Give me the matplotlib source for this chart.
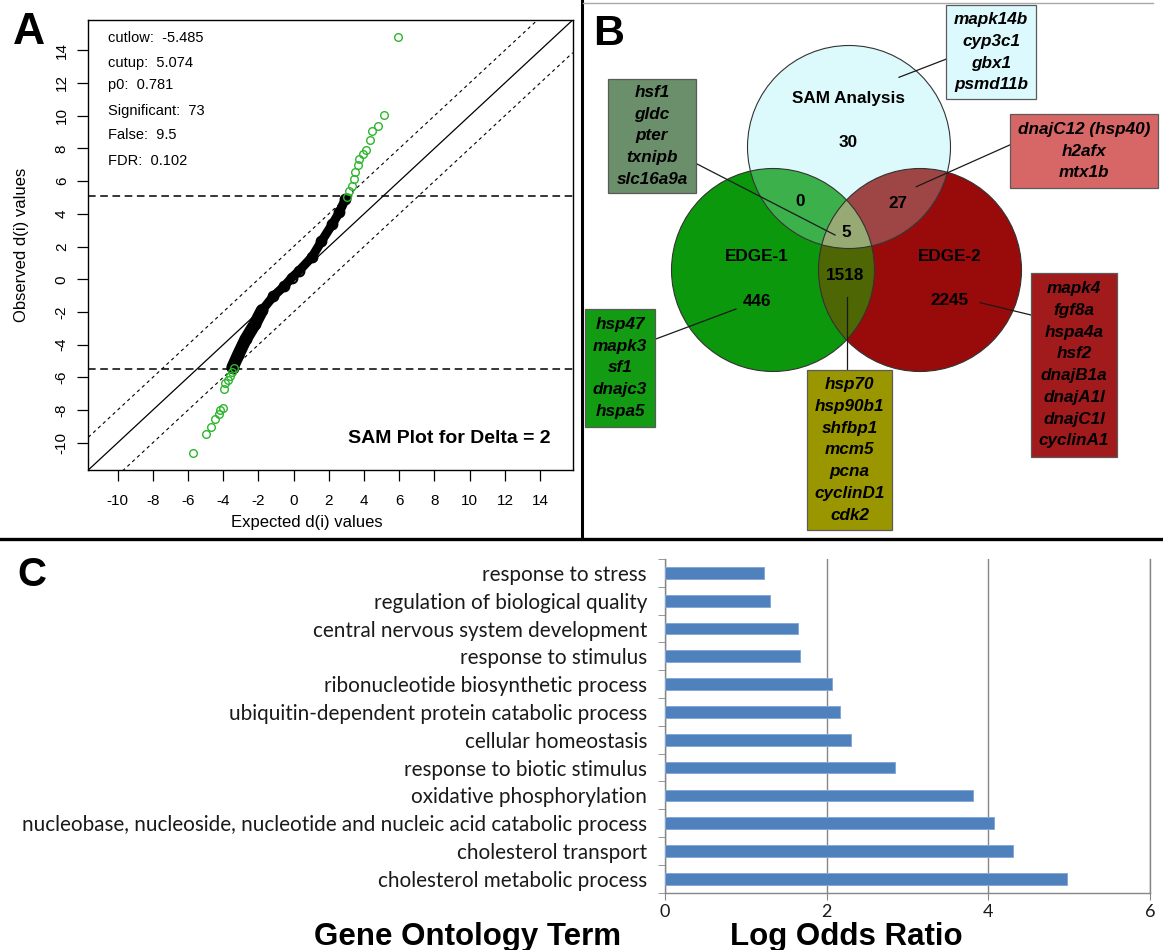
import numpy as np
import matplotlib
matplotlib.use("Agg")
import matplotlib.pyplot as plt
from matplotlib.patches import Circle, Rectangle, PathPatch
from matplotlib.path import Path

# ---------------- DATA ----------------
# Panel A: SAM plot
sam_stat_names = ["cutlow:", "cutup:", "p0:", "Significant:", "False:", "FDR:"]
sam_stat_values = ["-5.485", "5.074", "0.781", "73", "9.5", "0.102"]
cut_low = -5.485
cut_up = 5.074
delta = 2
axis_ticks_A = [-10, -8, -6, -4, -2, 0, 2, 4, 6, 8, 10, 12, 14]
expected_bulk = [-3.47, -3.15, -2.73, -2.20, -1.79, -1.16, -0.53, -0.10, 0.32, 1.05, 1.58, 2.20, 2.60, 2.94]
observed_bulk = [-5.40, -4.63, -3.68, -2.74, -1.89, -1.05, -0.42, 0.10, 0.53, 1.37, 2.32, 3.37, 4.10, 4.90]
expected_up = [3.05, 3.15, 3.30, 3.42, 3.51, 3.63, 3.72, 3.93, 4.10, 4.31, 4.45, 4.77, 5.15, 5.95]
observed_up = [5.05, 5.37, 5.68, 6.11, 6.53, 6.99, 7.37, 7.68, 7.89, 8.53, 9.09, 9.37, 10.04, 14.84]
expected_down = [-3.41, -3.50, -3.63, -3.73, -3.88, -3.93, -4.03, -4.16, -4.26, -4.45, -4.68, -4.96, -5.74]
observed_down = [-5.44, -5.64, -5.91, -6.16, -6.32, -6.73, -7.85, -7.99, -8.23, -8.56, -9.01, -9.48, -10.64]

# Panel B: Venn diagram
set_names = ["SAM Analysis", "EDGE-1", "EDGE-2"]
count_sam_only = 30
count_sam_e1 = 0
count_sam_e2 = 27
count_all = 5
count_e1_only = 446
count_e1_e2 = 1518
count_e2_only = 2245
genes_sam_only = ["mapk14b", "cyp3c1", "gbx1", "psmd11b"]
genes_sam_e2 = ["dnajC12 (hsp40)", "h2afx", "mtx1b"]
genes_all = ["hsf1", "gldc", "pter", "txnipb", "slc16a9a"]
genes_e1_only = ["hsp47", "mapk3", "sf1", "dnajc3", "hspa5"]
genes_e1_e2 = ["hsp70", "hsp90b1", "shfbp1", "mcm5", "pcna", "cyclinD1", "cdk2"]
genes_e2_only = ["mapk4", "fgf8a", "hspa4a", "hsf2", "dnajB1a", "dnajA1l", "dnajC1l", "cyclinA1"]

# Panel C: GO enrichment
go_terms = ["response to stress", "regulation of biological quality",
            "central nervous system development", "response to stimulus",
            "ribonucleotide biosynthetic process",
            "ubiquitin-dependent protein catabolic process",
            "cellular homeostasis", "response to biotic stimulus",
            "oxidative phosphorylation",
            "nucleobase, nucleoside, nucleotide and nucleic acid catabolic process",
            "cholesterol transport", "cholesterol metabolic process"]
log_odds = [1.23, 1.30, 1.64, 1.67, 2.07, 2.17, 2.30, 2.85, 3.81, 4.07, 4.30, 4.97]
ticks_C = [0, 2, 4, 6]

# ---------------- FIGURE ----------------
W, H = 1163, 950
SANS = ['Liberation Sans', 'DejaVu Sans']
plt.rcParams['font.family'] = SANS
plt.rcParams['axes.unicode_minus'] = False
fig = plt.figure(figsize=(W / 100, H / 100), dpi=100)


def fr(x0, y0, x1, y1):
    return [x0 / W, 1 - y1 / H, (x1 - x0) / W, (y1 - y0) / H]


ov = fig.add_axes([0, 0, 1, 1])
ov.set_xlim(0, W)
ov.set_ylim(H, 0)
ov.axis('off')
ov.set_zorder(10)

# ---------------- PANEL A ----------------
axA = fig.add_axes(fr(88.3, 20, 572.7, 470))
lim = (-11.66, 15.85)
axA.set_xlim(lim)
axA.set_ylim(lim)
xs = np.array(lim)
axA.plot(xs, xs, color='black', lw=0.9)
axA.plot(xs, xs + delta, color='black', lw=0.8, ls=(0, (3, 3)))
axA.plot(xs, xs - delta, color='black', lw=0.8, ls=(0, (3, 3)))
axA.axhline(cut_up, color='black', lw=1.1, ls=(0, (5, 3)))
axA.axhline(cut_low, color='black', lw=1.1, ls=(0, (5, 3)))
axA.plot(expected_bulk, observed_bulk, color='black', lw=6.5,
         solid_capstyle='round', solid_joinstyle='round')
axA.plot(expected_bulk[:5], observed_bulk[:5], color='black', lw=9,
         solid_capstyle='round', solid_joinstyle='round')
axA.plot(expected_bulk, observed_bulk, 'o', mfc='none', mec='black', ms=7, mew=1.5)
green = '#2db52d'
axA.plot(expected_up, observed_up, 'o', mfc='none', mec=green, ms=5.5, mew=1.0)
axA.plot(expected_down, observed_down, 'o', mfc='none', mec=green, ms=5.5, mew=1.0)
axA.set_xticks(axis_ticks_A)
axA.set_yticks(axis_ticks_A)
axA.tick_params(direction='out', length=8, width=0.9, labelsize=11)
axA.tick_params(axis='x', pad=9)
axA.tick_params(axis='y', pad=6)
for lbl in axA.get_yticklabels():
    lbl.set_rotation(90)
    lbl.set_va('center')
for s in axA.spines.values():
    s.set_linewidth(1.0)

stat_ys = [38.3, 63.3, 85, 110.7, 135, 160.7]
for name, val, yy in zip(sam_stat_names, sam_stat_values, stat_ys):
    ov.text(108.3, yy, f"{name}  {val}", fontsize=10.5, ha='left', va='center')
ov.text(550.7, 438.3, f"SAM Plot for Delta = {delta}", fontsize=14,
        fontweight='bold', ha='right', va='center')
ov.text(307, 522.7, "Expected d(i) values", fontsize=12, ha='center', va='center')
ov.text(21.7, 245, "Observed d(i) values", fontsize=12, ha='center',
        va='center', rotation=90)
ov.text(29, 32, "A", fontsize=32, fontweight='bold', ha='center', va='center')

# ---------------- PANEL B ----------------
R = 101.5
c_sam = (849, 147)
c_e1 = (773, 270)
c_e2 = (920, 270)
col_sam = '#dcf9fc'
col_e1 = '#0c980c'
col_e2 = '#990a0a'
col_sam_e1 = '#3cb04a'
col_sam_e2 = '#9e4545'
col_e1_e2 = '#4f6604'
col_all = '#98aa74'


def circ(c, **kw):
    return Circle(c, R, transform=ov.transData, **kw)


for c, col in [(c_e1, col_e1), (c_e2, col_e2), (c_sam, col_sam)]:
    ov.add_patch(circ(c, fc=col, ec='none', zorder=1))

p = circ(c_sam, fc=col_sam_e1, ec='none', zorder=2)
ov.add_patch(p)
p.set_clip_path(circ(c_e1))
p = circ(c_sam, fc=col_sam_e2, ec='none', zorder=2)
ov.add_patch(p)
p.set_clip_path(circ(c_e2))

# lens E1 ∩ E2
d = c_e2[0] - c_e1[0]
a = d / 2
hh = np.sqrt(R ** 2 - a ** 2)
phi = np.degrees(np.arctan2(hh, a))
arc1 = Path.arc(-phi, phi)
arc2 = Path.arc(180 - phi, 180 + phi)
v1 = arc1.vertices * R + np.array(c_e1)
v2 = arc2.vertices * R + np.array(c_e2)
verts = np.vstack([v1, v2[1:], v1[:1]])
codes = list(arc1.codes) + list(arc2.codes[1:]) + [Path.CLOSEPOLY]
lens = Path(verts, codes)
ov.add_patch(PathPatch(lens, fc=col_e1_e2, ec='none', zorder=2))
pa = PathPatch(lens, fc=col_all, ec='none', zorder=3)
ov.add_patch(pa)
pa.set_clip_path(circ(c_sam))

for c in [c_sam, c_e1, c_e2]:
    ov.add_patch(circ(c, fc='none', ec='#333333', lw=0.8, zorder=4))

bfs = 12.3
venn_texts = [
    (849, 98.3, set_names[0]), (848.3, 142.7, str(count_sam_only)),
    (800, 201.7, str(count_sam_e1)), (898, 203.3, str(count_sam_e2)),
    (846.7, 232.3, str(count_all)), (756.7, 256.7, set_names[1]),
    (949.7, 256.7, set_names[2]), (845, 275, str(count_e1_e2)),
    (757.3, 301.7, str(count_e1_only)), (949.7, 300.7, str(count_e2_only)),
]
for x, y, t in venn_texts:
    ov.text(x, y, t, fontsize=bfs, fontweight='bold', ha='center', va='center', zorder=6)

# leader lines
leaders = [((899, 77.3), (945.7, 59.3)), ((916.3, 186.7), (1009.7, 145)),
           ((695.7, 163.3), (835, 235)), ((655, 339.3), (736, 309)),
           ((846.7, 297.3), (846.7, 370)), ((980.3, 302.7), (1031, 315))]
for (x0, y0), (x1, y1) in leaders:
    ov.plot([x0, x1], [y0, y1], color='#1a1a1a', lw=0.9, zorder=5)

boxes = [
    (945.7, 5, 1036.3, 99.3, '#dcfafd', genes_sam_only),
    (1009.7, 114.3, 1158, 187.7, '#d76767', genes_sam_e2),
    (608.3, 79, 695.7, 192.7, '#6b8e6b', genes_all),
    (585, 309.3, 655, 426.7, '#149b14', genes_e1_only),
    (806.7, 370, 892.3, 530, '#999600', genes_e1_e2),
    (1030.7, 272.7, 1117.3, 456.7, '#a11b1d', genes_e2_only),
]
step = 21.8
for x0, y0, x1, y1, col, genes in boxes:
    ov.add_patch(Rectangle((x0, y0), x1 - x0, y1 - y0, fc=col, ec='#5a5a5a',
                           lw=0.9, zorder=5))
    cy = (y0 + y1) / 2
    n = len(genes)
    for i, g in enumerate(genes):
        yy = cy + (i - (n - 1) / 2) * step
        ov.text((x0 + x1) / 2, yy, g, fontsize=bfs, fontweight='bold',
                fontstyle='italic', ha='center', va='center', zorder=6)

ov.text(609, 34, "B", fontsize=31, fontweight='bold', ha='center', va='center')

# separators
ov.plot([581.5, 581.5], [0, 539], color='black', lw=2.2, zorder=7)
ov.plot([0, W], [539, 539], color='black', lw=2.4, zorder=7)
ov.plot([583, 1153], [3.3, 3.3], color='#a8a8a8', lw=1.0, zorder=7)

# ---------------- PANEL C ----------------
CFONT = ['Lato', 'DejaVu Sans']
axC = fig.add_axes(fr(665, 559, 1150, 892.7))
ypos = np.arange(len(go_terms))
axC.barh(ypos, log_odds, height=0.42, color='#4f81bd', edgecolor='#86a8d6',
         lw=0.7, zorder=3)
axC.set_ylim(len(go_terms) - 0.5, -0.5)
axC.set_xlim(0, 6)
axC.set_xticks(ticks_C)
axC.set_xticklabels([str(t) for t in ticks_C], fontfamily=CFONT)
axC.xaxis.grid(True, color='#868686', lw=1.0)
axC.axvline(6, color='#868686', lw=1.0, clip_on=False)
axC.set_axisbelow(True)
for k in ['top', 'right']:
    axC.spines[k].set_visible(False)
for k in ['left', 'bottom']:
    axC.spines[k].set_color('#868686')
    axC.spines[k].set_linewidth(1.0)
axC.set_yticks(ypos)
axC.set_yticklabels(go_terms, fontfamily=CFONT)
axC.set_yticks(np.arange(-0.5, len(go_terms), 1), minor=True)
axC.tick_params(axis='y', which='major', length=0, pad=13, labelsize=14.9,
                labelcolor='#1a1a1a')
axC.tick_params(axis='y', which='minor', length=5, color='#868686', direction='out')
axC.tick_params(axis='x', length=5, color='#868686', labelsize=13, pad=3,
                labelcolor='#1a1a1a')

ov.text(467.5, 937, "Gene Ontology Term", fontsize=22.5, fontweight='bold',
        ha='center', va='center')
ov.text(846, 937, "Log Odds Ratio", fontsize=22.5, fontweight='bold',
        ha='center', va='center')
ov.text(31.7, 575, "C", fontsize=29, fontweight='bold', ha='center', va='center')

fig.savefig("out.png", dpi=100)
